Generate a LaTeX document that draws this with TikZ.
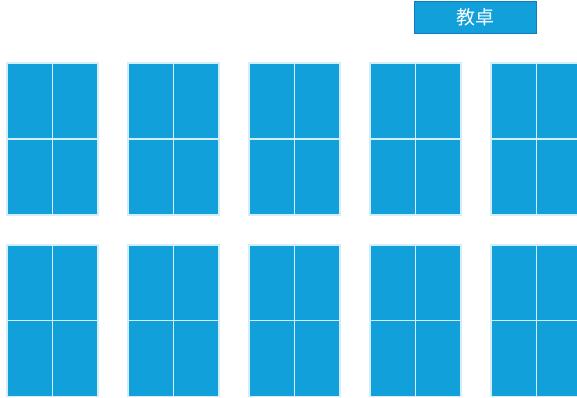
\documentclass[tikz,border=0pt]{standalone}
\usepackage{fontspec}
\newfontfamily\cjk{Noto Sans CJK SC}
\definecolor{deskblue}{HTML}{12A0DA}
\definecolor{deskedge}{HTML}{D4EEF9}
\definecolor{podiumedge}{HTML}{0E7CC0}
\begin{document}
\begin{tikzpicture}[x=1pt,y=-1pt,
  cell/.style={rectangle,inner sep=0pt,outer sep=0pt,minimum width=45.5pt,minimum height=76pt,fill=deskblue,draw=deskedge,line width=1.2pt},
  podium/.style={rectangle,inner sep=0pt,minimum width=122pt,minimum height=32pt,fill=deskblue,draw=podiumedge,line width=1.2pt,text=white,font=\cjk\fontsize{19}{22}\selectfont}]
\useasboundingbox (0,0) rectangle (577,398);
\begin{scope}
\clip (0,0) rectangle (577,398);
\foreach \g in {0,...,4}{
  \foreach \r/\ya/\yb in {0/101/177,1/283/358.5}{
    \pgfmathsetmacro{\xa}{7+121*\g+22.75}
    \pgfmathsetmacro{\xb}{7+121*\g+68.25}
    \node[cell] (d\g\r a) at (\xa,\ya) {};
    \node[cell] (d\g\r b) at (\xb,\ya) {};
    \node[cell] (d\g\r c) at (\xa,\yb) {};
    \node[cell] (d\g\r d) at (\xb,\yb) {};
  }
}
\end{scope}
\node[podium] (jz) at (475.5,17.5) {教卓};
\end{tikzpicture}
\end{document}
